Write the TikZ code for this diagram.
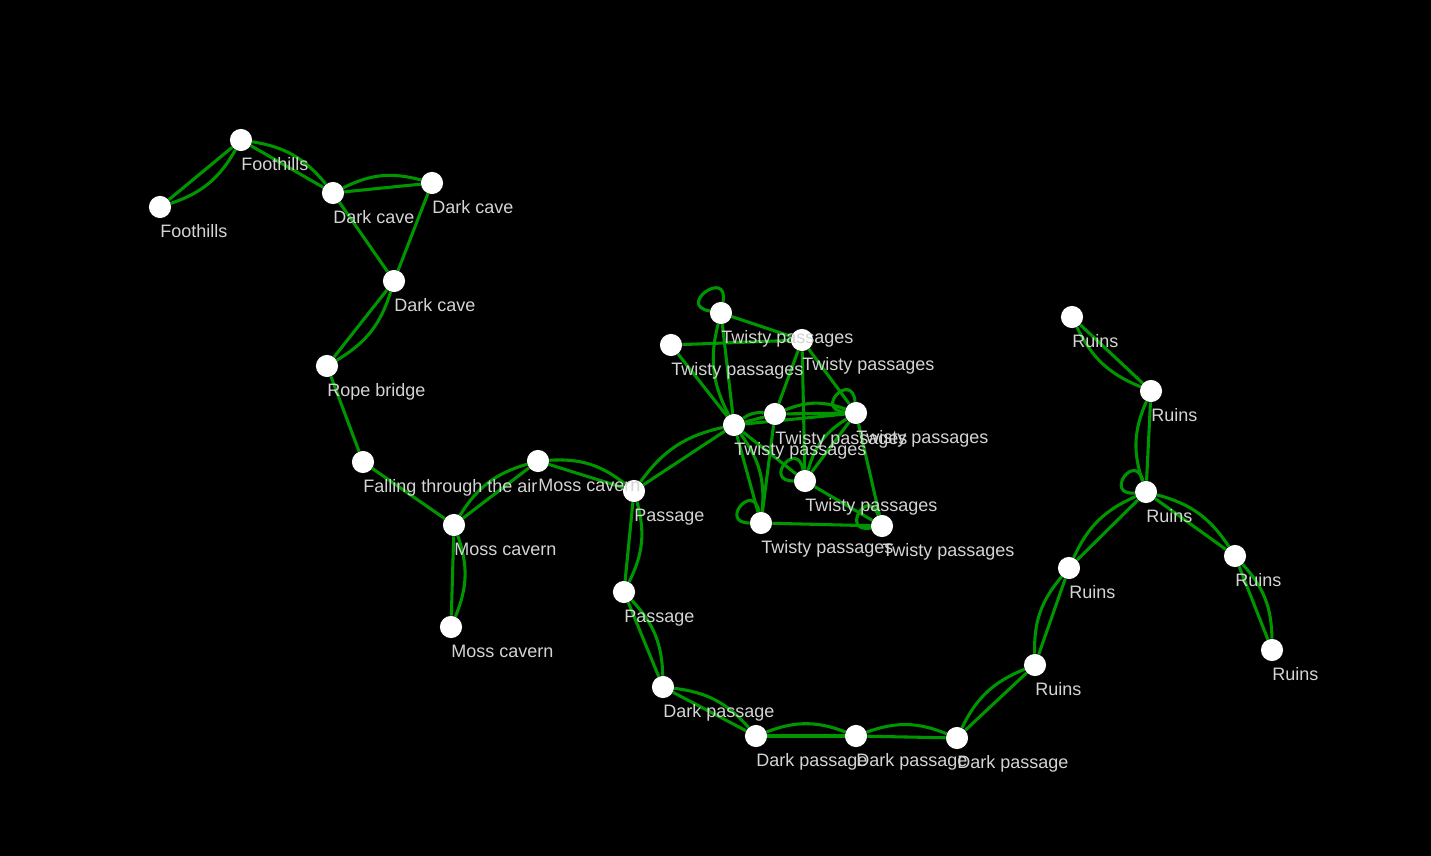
\documentclass[tikz,border=0pt]{standalone}
\usepackage{fontspec}
\setmainfont{Liberation Sans}
\definecolor{edgegreen}{RGB}{0,150,0}
\definecolor{labgray}{RGB}{212,212,212}
\pgfdeclarelayer{bg}\pgfdeclarelayer{edges}\pgfdeclarelayer{top}
\pgfsetlayers{bg,edges,main,top}
\tikzset{
  vert/.style={circle,fill=white,draw=none,inner sep=0pt,minimum size=16.6pt},
  lab/.style={anchor=base west,inner sep=0pt,text=labgray,font=\fontsize{13.5pt}{15pt}\selectfont},
  edge/.style={draw=edgegreen,line width=2.3pt},
  curved/.style={edge,bend left=21}
}
\newcommand\vtx[4]{\node[vert] (#1) at (#2,-#3) {};%
  \begin{pgfonlayer}{top}\node[lab] (#1-t) at (#2,-#3-30.5) {#4};\end{pgfonlayer}}
\newcommand\dbl[2]{\draw[edge] (#1) -- (#2); \draw[curved] (#1) to (#2);}
\newcommand\sgl[2]{\draw[edge] (#1) -- (#2);}
\newcommand\lp[3]{\draw[edge] (#1) to[out=#2,in=#3,looseness=5.5] (#1);}
\begin{document}
\begin{tikzpicture}[x=0.75pt,y=0.75pt]
\begin{pgfonlayer}{bg}
\fill[black] (0,0) rectangle (1431,-856);
\end{pgfonlayer}
\useasboundingbox (0,0) rectangle (1431,-856);
% nodes
\vtx{F1}{241}{140}{Foothills}
\vtx{F2}{160}{207}{Foothills}
\vtx{DC1}{333}{193}{Dark cave}
\vtx{DC2}{432}{183}{Dark cave}
\vtx{DC3}{394}{281}{Dark cave}
\vtx{RB}{327}{366}{Rope bridge}
\vtx{FA}{363}{462}{Falling through the air}
\vtx{MC1}{454}{525}{Moss cavern}
\vtx{MC2}{538}{461}{Moss cavern}
\vtx{MC3}{451}{627}{Moss cavern}
\vtx{P1}{634}{491}{Passage}
\vtx{P2}{624}{592}{Passage}
\vtx{DP1}{663}{687}{Dark passage}
\vtx{DP2}{756}{736}{Dark passage}
\vtx{DP3}{856}{736}{Dark passage}
\vtx{DP4}{957}{738}{Dark passage}
\vtx{R1}{1035}{665}{Ruins}
\vtx{R2}{1069}{568}{Ruins}
\vtx{R3}{1146}{492}{Ruins}
\vtx{R4}{1151}{391}{Ruins}
\vtx{R5}{1072}{317}{Ruins}
\vtx{R6}{1235}{556}{Ruins}
\vtx{R7}{1272}{650}{Ruins}
\vtx{T1}{721}{313}{Twisty passages}
\vtx{T2}{671}{345}{Twisty passages}
\vtx{T3}{802}{340}{Twisty passages}
\vtx{T4}{734}{425}{Twisty passages}
\vtx{T5}{775}{414}{Twisty passages}
\vtx{T6}{856}{413}{Twisty passages}
\vtx{T7}{805}{481}{Twisty passages}
\vtx{T8}{761}{523}{Twisty passages}
\vtx{T9}{882}{526}{Twisty passages}
% edges
\begin{pgfonlayer}{edges}
\dbl{F1}{F2}
\dbl{F1}{DC1}
\dbl{DC1}{DC2}
\sgl{DC1}{DC3}
\sgl{DC2}{DC3}
\dbl{DC3}{RB}
\sgl{RB}{FA}
\sgl{FA}{MC1}
\dbl{MC1}{MC2}
\dbl{MC1}{MC3}
\dbl{MC2}{P1}
\dbl{P1}{P2}
\dbl{P2}{DP1}
\dbl{DP1}{DP2}
\dbl{DP2}{DP3}
\dbl{DP3}{DP4}
\dbl{DP4}{R1}
\dbl{R1}{R2}
\dbl{R2}{R3}
\dbl{R3}{R4}
\dbl{R4}{R5}
\dbl{R3}{R6}
\dbl{R6}{R7}
\lp{R3}{105}{185}
\dbl{P1}{T4}
\dbl{T4}{T1}
\dbl{T4}{T5}
\dbl{T5}{T6}
\dbl{T4}{T8}
\dbl{T7}{T6}
\sgl{T1}{T3}
\sgl{T2}{T3}
\sgl{T2}{T4}
\sgl{T3}{T5}
\sgl{T3}{T7}
\sgl{T3}{T6}
\sgl{T4}{T6}
\sgl{T6}{T9}
\sgl{T4}{T7}
\sgl{T7}{T9}
\sgl{T8}{T9}
\sgl{T5}{T8}
\lp{T1}{80}{170}
\lp{T6}{95}{175}
\lp{T7}{100}{180}
\lp{T8}{100}{180}
\lp{T9}{110}{190}
\end{pgfonlayer}
\end{tikzpicture}
\end{document}
